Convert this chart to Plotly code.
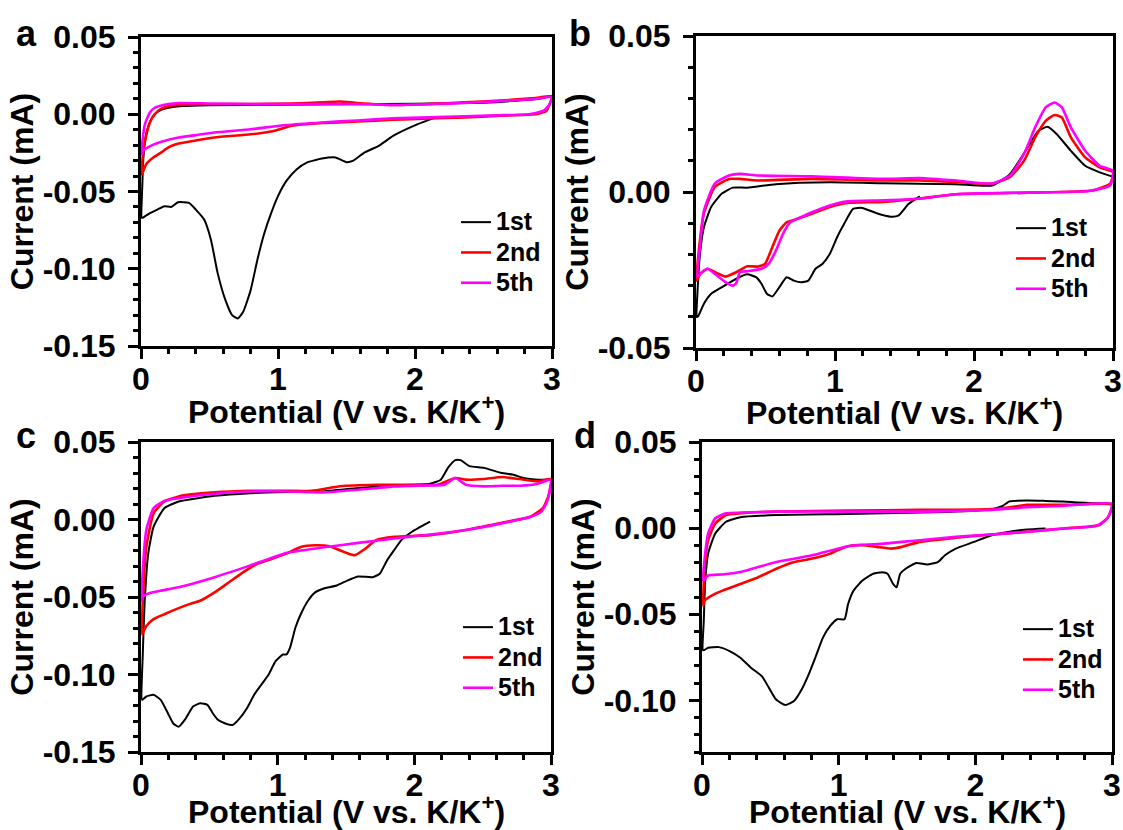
import plotly.graph_objects as go

# ---------------- data ----------------
potential_ticks = [0, 1, 2, 3]
potential_tick_labels = ["0", "1", "2", "3"]
current_ticks_ac = [0.05, 0.0, -0.05, -0.10, -0.15]
current_tick_labels_ac = ["0.05", "0.00", "-0.05", "-0.10", "-0.15"]
current_ticks_b = [0.05, 0.0, -0.05]
current_tick_labels_b = ["0.05", "0.00", "-0.05"]
current_ticks_d = [0.05, 0.0, -0.05, -0.10]
current_tick_labels_d = ["0.05", "0.00", "-0.05", "-0.10"]
cycle_names = ["1st", "2nd", "5th"]

# panel a
a_1st_v = [2.15, 2.02, 1.84, 1.735, 1.63, 1.55, 1.50, 1.42, 1.32, 1.21, 1.135, 1.06, 1.00, 0.95, 0.90, 0.85,
           0.80, 0.745, 0.705, 0.665, 0.615, 0.56, 0.51, 0.46, 0.40, 0.35, 0.27, 0.22, 0.17, 0.12, 0.065, 0.013,
           0.005, 0.01, 0.02, 0.04, 0.07, 0.10, 0.15, 0.20, 0.30, 0.50, 1.0, 1.5, 2.0, 2.5, 2.7, 2.9, 3.0]
a_1st_i = [-0.002, -0.0064, -0.014, -0.0205, -0.0248, -0.030, -0.031, -0.028, -0.0287, -0.0313, -0.0357, -0.0433,
           -0.053, -0.064, -0.077, -0.094, -0.114, -0.128, -0.1322, -0.130, -0.120, -0.103, -0.081, -0.068, -0.0617,
           -0.0574, -0.057, -0.060, -0.0595, -0.0617, -0.064, -0.067,
           -0.067, -0.045, -0.025, -0.012, -0.004, 0.0, 0.003, 0.0042, 0.0053, 0.0058, 0.0062, 0.0065, 0.0068,
           0.0075, 0.0085, 0.0100, 0.0120]
a_2nd_v = [3.0, 2.98, 2.96, 2.92, 2.88, 2.62, 2.36, 2.1, 1.84, 1.58, 1.32, 1.1, 1.02, 0.96, 0.8, 0.535, 0.4, 0.274,
           0.2, 0.143, 0.09, 0.04, 0.005, 0.01, 0.03, 0.065, 0.1, 0.143, 0.2, 0.274, 0.5, 0.8, 1.1, 1.32, 1.45,
           1.58, 1.84, 2.1, 2.36, 2.62, 2.88, 3.0]
a_2nd_i = [0.0115, 0.006, 0.0023, 0.0008, 0.0, -0.001, -0.002, -0.0027, -0.0036, -0.0047, -0.0057, -0.0075, -0.0095,
           -0.0110, -0.013, -0.015, -0.017, -0.019, -0.0215, -0.025, -0.028, -0.032, -0.039, -0.030, -0.017, -0.0053,
           0.0, 0.0034, 0.0052, 0.006, 0.0065, 0.0066, 0.007, 0.0077, 0.0083, 0.0073, 0.006, 0.0066, 0.0077, 0.0088,
           0.0105, 0.0115]
a_5th_v = [3.0, 2.98, 2.94, 2.88, 2.83, 2.6, 2.36, 2.1, 1.84, 1.58, 1.32, 1.06, 0.8, 0.535, 0.4, 0.274, 0.143, 0.06,
           0.013, 0.005, 0.01, 0.03, 0.065, 0.1, 0.143, 0.2, 0.274, 0.5, 0.8, 1.1, 1.58, 1.84, 2.1, 2.36, 2.62, 2.88,
           3.0]
a_5th_i = [0.0112, 0.006, 0.0023, 0.0008, 0.0, -0.0007, -0.0014, -0.002, -0.0027, -0.004, -0.0053, -0.007, -0.0097,
           -0.0118, -0.0135, -0.0151, -0.018, -0.021, -0.0238, -0.026, -0.018, -0.006, 0.0012, 0.0042, 0.0055, 0.0066,
           0.0073, 0.0070, 0.0066, 0.0066, 0.0066, 0.006, 0.0065, 0.0073, 0.0085, 0.0099, 0.0112]

# panel b
b_1st_v = [1.61, 1.53, 1.455, 1.40, 1.30, 1.196, 1.13, 1.066, 1.015, 0.963, 0.911, 0.86, 0.808, 0.756, 0.704, 0.652,
           0.60, 0.549, 0.51, 0.471, 0.432, 0.368, 0.29, 0.186, 0.109, 0.057, 0.018, 0.005, 0.01, 0.031, 0.057, 0.109,
           0.186, 0.264, 0.368, 0.575, 0.963, 1.35, 1.87, 2.13, 2.26, 2.386, 2.464, 2.529, 2.594, 2.697, 2.80, 2.904,
           3.0]
b_1st_i = [-0.0014, -0.0038, -0.0076, -0.0079, -0.0068, -0.0051, -0.0054, -0.0102, -0.0145, -0.0198, -0.023, -0.0246,
           -0.0284, -0.0289, -0.0284, -0.0273, -0.0305, -0.0335, -0.0326, -0.0294, -0.0273, -0.0264, -0.0278, -0.0305,
           -0.0326, -0.0358, -0.0396, -0.0401, -0.0326, -0.0188, -0.0113, -0.0048, -0.0005, 0.0014, 0.0014, 0.0025,
           0.0031, 0.0028, 0.0025, 0.0021, 0.0058, 0.0143, 0.0196, 0.0209, 0.0186, 0.0132, 0.0084, 0.0063, 0.0049]
b_2nd_v = [3.0, 2.98, 2.85, 2.386, 1.87, 1.61, 1.35, 1.09, 0.963, 0.833, 0.73, 0.652, 0.60, 0.549, 0.497, 0.445,
           0.368, 0.29, 0.212, 0.16, 0.083, 0.031, 0.005, 0.018, 0.057, 0.135, 0.238, 0.316, 0.445, 0.833, 1.35, 1.61,
           1.87, 2.13, 2.26, 2.36, 2.44, 2.516, 2.58, 2.632, 2.697, 2.80, 2.904, 3.0]
b_2nd_i = [0.0063, 0.0027, 0.0005, -0.0002, -0.0007, -0.0021, -0.0032, -0.0035, -0.0048, -0.007, -0.0086, -0.0097,
           -0.0124, -0.0177, -0.023, -0.0239, -0.0238, -0.0257, -0.0271, -0.0262, -0.0246, -0.0262, -0.0284, -0.0198,
           -0.0069, 0.0016, 0.0042, 0.0042, 0.0037, 0.0042, 0.0037, 0.0037, 0.0032, 0.0027, 0.0048, 0.010, 0.0175,
           0.0228, 0.0247, 0.0239, 0.0175, 0.0111, 0.0079, 0.0063]
b_5th_v = [3.0, 2.98, 2.83, 2.386, 1.87, 1.61, 1.35, 1.09, 0.963, 0.833, 0.756, 0.678, 0.626, 0.575, 0.523, 0.471,
           0.368, 0.316, 0.29, 0.264, 0.212, 0.135, 0.083, 0.044, 0.01, 0.026, 0.057, 0.135, 0.238, 0.316, 0.445,
           0.833, 1.35, 1.61, 1.87, 2.13, 2.26, 2.36, 2.44, 2.516, 2.58, 2.632, 2.697, 2.80, 2.904, 3.0]
b_5th_i = [0.0068, 0.0021, 0.0003, -0.0002, -0.0007, -0.0021, -0.0027, -0.003, -0.0043, -0.0065, -0.0081, -0.0097,
           -0.0134, -0.0188, -0.023, -0.0246, -0.0254, -0.0257, -0.0292, -0.030, -0.0289, -0.0262, -0.0246, -0.0257,
           -0.0273, -0.0188, -0.006, 0.0027, 0.0053, 0.0058, 0.0053, 0.005, 0.0042, 0.0045, 0.0037, 0.0027, 0.0053,
           0.0122, 0.0207, 0.0271, 0.0287, 0.0271, 0.0207, 0.0132, 0.0084, 0.0068]

# panel c
c_1st_v = [2.115, 1.983, 1.905, 1.852, 1.80, 1.747, 1.694, 1.589, 1.51, 1.432, 1.327, 1.274, 1.222, 1.169, 1.13,
           1.09, 1.064, 1.038, 0.985, 0.933, 0.88, 0.828, 0.775, 0.722, 0.67, 0.617, 0.565, 0.525, 0.486, 0.433,
           0.381, 0.328, 0.276, 0.236, 0.197, 0.144, 0.092, 0.039, 0.008, 0.013, 0.026, 0.053, 0.092, 0.171, 0.276,
           0.538, 0.801, 1.064, 1.327, 1.589, 1.852, 2.115, 2.194, 2.246, 2.30, 2.338, 2.404, 2.509, 2.64, 2.719,
           2.798, 2.903, 3.0]
c_1st_i = [-0.0014, -0.0079, -0.0133, -0.0198, -0.0264, -0.035, -0.0372, -0.0368, -0.0394, -0.0426, -0.0448, -0.047,
           -0.0524, -0.0611, -0.0697, -0.0828, -0.0871, -0.0871, -0.0914, -0.1001, -0.1066, -0.1131, -0.1218, -0.1283,
           -0.1326, -0.1316, -0.1294, -0.125, -0.1196, -0.1186, -0.1207, -0.1283, -0.1337, -0.1316, -0.125, -0.1164,
           -0.1131, -0.1142, -0.1164, -0.0871, -0.0546, -0.022, -0.0047, 0.0073, 0.0116, 0.0153, 0.017, 0.0177,
           0.0181, 0.0203, 0.022, 0.0231, 0.0257, 0.0333, 0.0383, 0.0383, 0.0344, 0.0333, 0.030, 0.029, 0.0268,
           0.0257, 0.0257]
c_2nd_v = [3.0, 2.98, 2.94, 2.85, 2.64, 2.377, 2.115, 1.852, 1.72, 1.642, 1.563, 1.484, 1.379, 1.274, 1.169, 1.064,
           0.959, 0.854, 0.749, 0.644, 0.539, 0.433, 0.355, 0.276, 0.171, 0.092, 0.039, 0.008, 0.018, 0.039, 0.092,
           0.171, 0.276, 0.538, 0.801, 1.064, 1.248, 1.458, 1.72, 1.983, 2.167, 2.30, 2.377, 2.509, 2.64, 2.771,
           2.903, 3.0]
c_2nd_i = [0.0261, 0.0149, 0.0073, 0.0018, -0.0021, -0.0068, -0.0101, -0.0112, -0.0133, -0.0188, -0.0231, -0.0209,
           -0.0172, -0.0166, -0.0177, -0.022, -0.0253, -0.0285, -0.0339, -0.0405, -0.047, -0.0524, -0.0546, -0.0572,
           -0.0611, -0.0643, -0.0687, -0.0741, -0.0437, -0.0177, 0.004, 0.0116, 0.0149, 0.0175, 0.0185, 0.0185,
           0.0185, 0.0214, 0.0224, 0.0224, 0.0224, 0.0268, 0.0257, 0.0261, 0.0274, 0.0261, 0.0246, 0.0261]
c_5th_v = [3.0, 2.976, 2.93, 2.85, 2.64, 2.377, 2.115, 1.852, 1.589, 1.327, 1.064, 0.801, 0.539, 0.276, 0.144, 0.066,
           0.013, 0.005, 0.013, 0.039, 0.092, 0.171, 0.276, 0.538, 0.801, 1.064, 1.327, 1.589, 1.852, 2.115, 2.22,
           2.30, 2.377, 2.509, 2.64, 2.771, 2.903, 3.0]
c_5th_i = [0.0257, 0.0127, 0.0051, 0.0018, -0.0025, -0.0068, -0.0097, -0.0123, -0.0151, -0.0181, -0.0216, -0.0296,
           -0.0372, -0.0437, -0.0459, -0.0474, -0.0498, -0.0524, -0.0329, -0.0068, 0.0073, 0.012, 0.0138, 0.0166,
           0.0181, 0.0181, 0.0175, 0.0192, 0.0214, 0.022, 0.0224, 0.0268, 0.0224, 0.0214, 0.0218, 0.0218, 0.0231,
           0.0257]

# panel d
d_1st_v = [2.514, 2.38, 2.25, 2.12, 1.99, 1.857, 1.778, 1.726, 1.647, 1.568, 1.49, 1.45, 1.424, 1.398, 1.358, 1.319,
           1.253, 1.174, 1.109, 1.069, 1.043, 0.99, 0.938, 0.885, 0.833, 0.78, 0.728, 0.675, 0.61, 0.544, 0.491,
           0.439, 0.36, 0.281, 0.202, 0.123, 0.045, 0.008, 0.013, 0.024, 0.045, 0.097, 0.176, 0.281, 0.544, 1.069,
           1.595, 1.857, 2.12, 2.2, 2.25, 2.38, 2.514, 2.645, 2.75, 2.856, 3.0]
d_1st_i = [-0.0002, -0.0008, -0.0021, -0.0041, -0.008, -0.0119, -0.0158, -0.0197, -0.0211, -0.0203, -0.0236, -0.0265,
           -0.0343, -0.0324, -0.0265, -0.0256, -0.0265, -0.0304, -0.0363, -0.0441, -0.0529, -0.0529, -0.0568, -0.0636,
           -0.0744, -0.0851, -0.0939, -0.1003, -0.1027, -0.0997, -0.0929, -0.0861, -0.0812, -0.0753, -0.0714, -0.0691,
           -0.0695, -0.071, -0.0539, -0.0304, -0.0148, -0.0031, 0.0037, 0.0063, 0.0076, 0.0082, 0.009, 0.0096, 0.011,
           0.0129, 0.0155, 0.016, 0.0158, 0.0155, 0.0149, 0.0145, 0.0141]
d_2nd_v = [3.0, 2.974, 2.908, 2.645, 2.38, 2.12, 1.857, 1.595, 1.463, 1.384, 1.28, 1.174, 1.069, 0.99, 0.938, 0.807,
           0.675, 0.544, 0.412, 0.281, 0.15, 0.071, 0.018, 0.008, 0.018, 0.045, 0.097, 0.176, 0.281, 0.544, 1.069,
           1.595, 1.857, 2.12, 2.25, 2.38, 2.645, 3.0]
d_2nd_i = [0.0135, 0.0067, 0.0018, -0.0002, -0.0021, -0.0037, -0.0056, -0.008, -0.0109, -0.0119, -0.0109, -0.0099,
           -0.0105, -0.0129, -0.0148, -0.0177, -0.0197, -0.0236, -0.0285, -0.0324, -0.0363, -0.0392, -0.0421, -0.0451,
           -0.0246, -0.007, 0.0027, 0.0076, 0.0086, 0.0096, 0.0102, 0.0106, 0.0106, 0.011, 0.0121, 0.0135, 0.0135,
           0.0135]
d_5th_v = [3.0, 2.966, 2.882, 2.645, 2.38, 2.12, 1.857, 1.595, 1.332, 1.069, 0.807, 0.544, 0.281, 0.15, 0.045, 0.008,
           0.018, 0.045, 0.097, 0.176, 0.281, 0.544, 1.069, 1.595, 2.12, 2.38, 2.645, 3.0]
d_5th_i = [0.0141, 0.0057, 0.0012, -0.0002, -0.0021, -0.0037, -0.0051, -0.007, -0.009, -0.0105, -0.0158, -0.0197,
           -0.0255, -0.0269, -0.0275, -0.0304, -0.0187, -0.0031, 0.0057, 0.0086, 0.009, 0.0096, 0.0096, 0.0096,
           0.0106, 0.0121, 0.0129, 0.0141]

x_title = "Potential (V vs. K/K<sup>+</sup>)"
y_title = "Current (mA)"

# ---------------- layout helpers ----------------
W, H = 1123, 830
FONT = "Liberation Sans, Arial, sans-serif"
colors = ["#000000", "#FF0000", "#FF00FF"]
widths = [2, 2.6, 2.6]


def fx(p):
    return p / W


def fy(p):
    return 1 - p / H


panels = [
    dict(letter="a", xd=(141, 552), yd=(37, 346), yr=[-0.15, 0.05], yt=current_ticks_ac,
         yl=current_tick_labels_ac, curves=[(a_1st_v, a_1st_i), (a_2nd_v, a_2nd_i), (a_5th_v, a_5th_i)],
         leg=(456, 202), lab=(14, 33), xt=410),
    dict(letter="b", xd=(696, 1113), yd=(36, 348), yr=[-0.05, 0.05], yt=current_ticks_b,
         yl=current_tick_labels_b, curves=[(b_1st_v, b_1st_i), (b_2nd_v, b_2nd_i), (b_5th_v, b_5th_i)],
         leg=(1011, 208), lab=(567, 33), xt=411),
    dict(letter="c", xd=(141, 551), yd=(442, 752), yr=[-0.15, 0.05], yt=current_ticks_ac,
         yl=current_tick_labels_ac, curves=[(c_1st_v, c_1st_i), (c_2nd_v, c_2nd_i), (c_5th_v, c_5th_i)],
         leg=(458, 607), lab=(14, 435), xt=810),
    dict(letter="d", xd=(702, 1112), yd=(442, 752), yr=[-0.13, 0.05], yt=current_ticks_d,
         yl=current_tick_labels_d, curves=[(d_1st_v, d_1st_i), (d_2nd_v, d_2nd_i), (d_5th_v, d_5th_i)],
         leg=(1018, 609), lab=(572, 435), xt=810),
]

tickfont = dict(family=FONT, size=32, color="black", weight="bold")
titlefont = dict(family=FONT, size=32, color="black", weight="bold")

fig = go.Figure()
layout = dict(
    width=W, height=H, margin=dict(l=0, r=0, t=0, b=0, autoexpand=False),
    paper_bgcolor="white", plot_bgcolor="white", annotations=[],
    font=dict(family=FONT, color="black"),
)

for k, p in enumerate(panels):
    n = "" if k == 0 else str(k + 1)
    legname = "legend" + n
    for j, (v, i) in enumerate(p["curves"]):
        fig.add_trace(go.Scatter(
            x=v, y=i, mode="lines",
            name='<span style="font-size:25px">' + cycle_names[j] + '</span>',
            line=dict(color=colors[j], width=widths[j], shape="spline", smoothing=0.5),
            xaxis="x" + n, yaxis="y" + n, legend=legname, showlegend=True,
        ))
    common = dict(showline=True, linecolor="black", linewidth=3, mirror=True, ticks="outside",
                  ticklen=10, tickwidth=3, tickcolor="black", showgrid=False, zeroline=False,
                  tickfont=tickfont, automargin=False)
    layout["xaxis" + n] = dict(
        common, domain=[fx(p["xd"][0]), fx(p["xd"][1])], anchor="y" + n, range=[0, 3],
        tickvals=potential_ticks, ticktext=potential_tick_labels, ticklabelstandoff=-7,
        minor=dict(ticks="outside", ticklen=5, tickwidth=3, tickcolor="black", dtick=0.2, tick0=0, showgrid=False),
    )
    layout["yaxis" + n] = dict(
        common, domain=[fy(p["yd"][1]), fy(p["yd"][0])], anchor="x" + n, range=p["yr"],
        tickvals=p["yt"], ticktext=p["yl"], ticklabelstandoff=6,
        minor=dict(ticks="outside", ticklen=5, tickwidth=3, tickcolor="black", dtick=0.01, tick0=0, showgrid=False),
        title=dict(text=y_title, font=titlefont, standoff=0),
    )
    layout[legname] = dict(
        x=fx(p["leg"][0]), y=fy(p["leg"][1]), xanchor="left", yanchor="top",
        bgcolor="rgba(0,0,0,0)", borderwidth=0, itemwidth=30,
        font=dict(family=FONT, size=21, color="black", weight="bold"),
        tracegroupgap=0,
    )
    # x-axis title, placed just under the tick labels as in the reference
    layout["annotations"].append(dict(
        text=x_title, x=(fx(p["xd"][0]) + fx(p["xd"][1])) / 2, y=fy(p["xt"]), xref="paper", yref="paper",
        xanchor="center", yanchor="middle", showarrow=False, font=titlefont,
    ))
    layout["annotations"].append(dict(
        text=p["letter"], x=fx(p["lab"][0]), y=fy(p["lab"][1]), xref="paper", yref="paper",
        xanchor="left", yanchor="middle", showarrow=False,
        font=dict(family=FONT, size=36, color="black", weight="bold"),
    ))

fig.update_layout(**layout)
fig.write_html("out.html")
